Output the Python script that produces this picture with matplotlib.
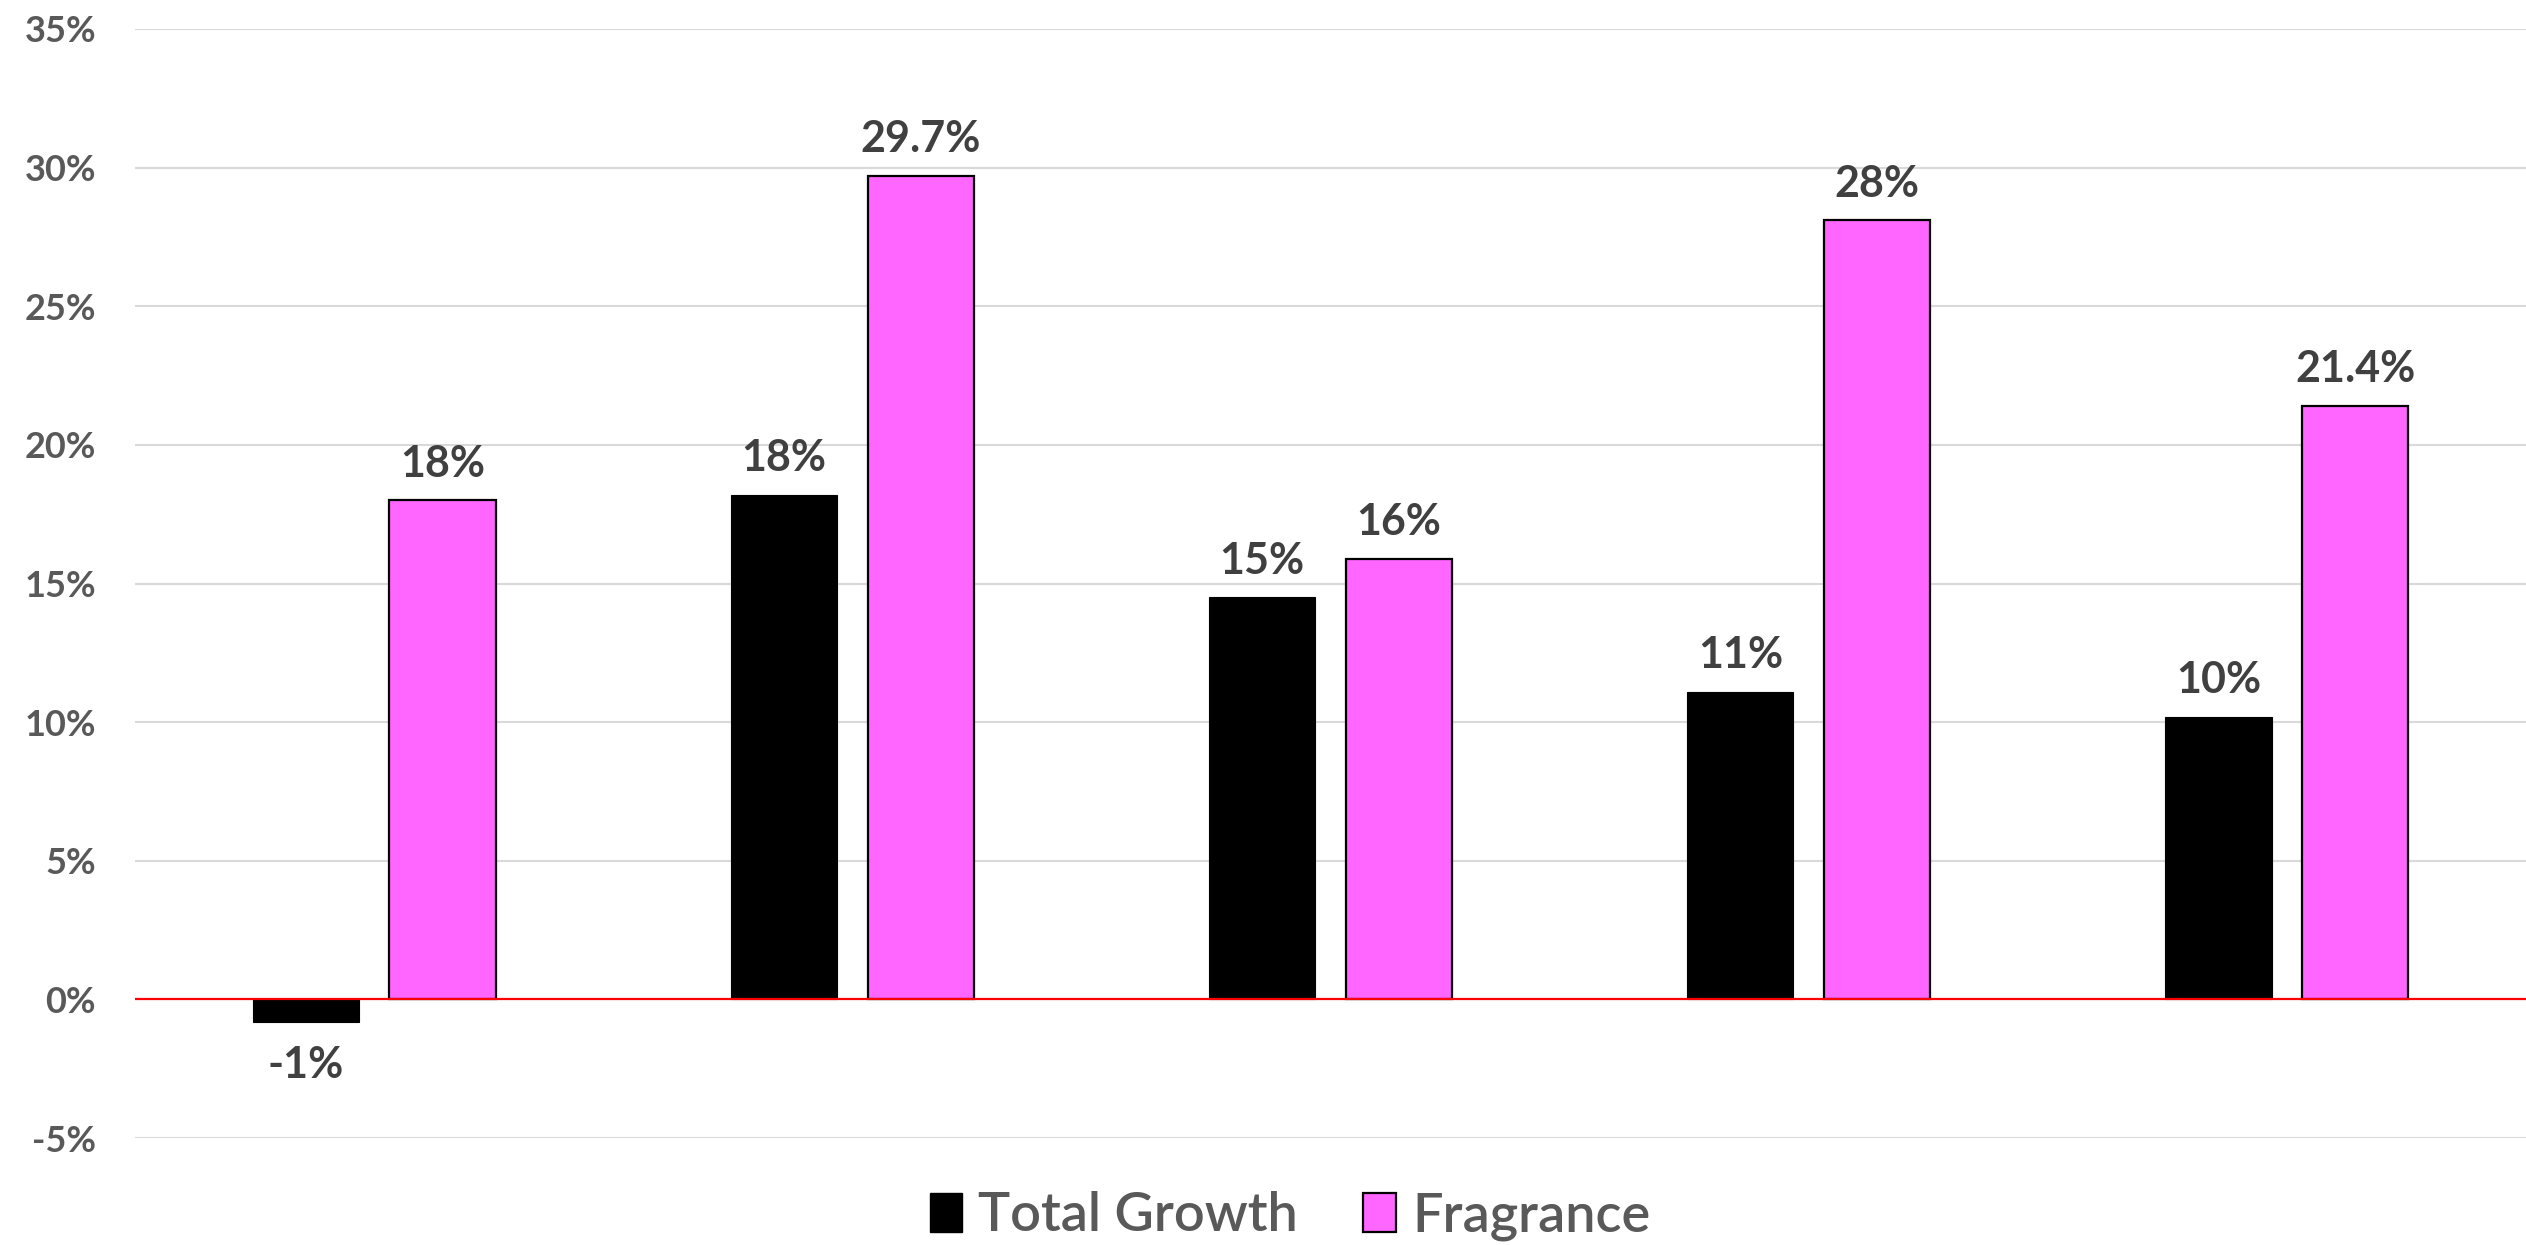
import matplotlib
matplotlib.use("Agg")
import matplotlib.pyplot as plt
import matplotlib.patches as mpatches
import numpy as np

# data
categories = ["G1", "G2", "G3", "G4", "G5"]
total_growth = [-0.8, 18.2, 14.5, 11.1, 10.2]
fragrance = [18.0, 29.7, 15.9, 28.1, 21.4]
total_labels = ["-1%", "18%", "15%", "11%", "10%"]
fragrance_labels = ["18%", "29.7%", "16%", "28%", "21.4%"]
yticks = [-5, 0, 5, 10, 15, 20, 25, 30, 35]

PINK = "#FF66FF"
TICK_GREY = "#595959"
LABEL_GREY = "#404040"

fig = plt.figure(figsize=(25.26, 12.45), dpi=100)
ax = fig.add_axes([135 / 2526, 1 - 1138 / 1245, 1 - 135 / 2526, (1138 - 29) / 1245])

x = np.arange(len(categories))
w = 0.222
off = 0.143
b1 = ax.bar(x - off, total_growth, w, color="black", edgecolor="black", lw=0.8, zorder=3)
b2 = ax.bar(x + off, fragrance, w, color=PINK, edgecolor="black", lw=1.6, zorder=3)

def label_bars(bars, labels):
    for rect, txt in zip(bars, labels):
        h = rect.get_height()
        cx = rect.get_x() + rect.get_width() / 2
        if h >= 0:
            ax.annotate(txt, (cx, h), xytext=(0, 17), textcoords="offset points",
                        ha="center", va="baseline", fontsize=31, fontweight="bold",
                        color=LABEL_GREY, family="Lato")
        else:
            ax.annotate(txt, (cx, h), xytext=(0, -17), textcoords="offset points",
                        ha="center", va="top", fontsize=31, fontweight="bold",
                        color=LABEL_GREY, family="Lato")

label_bars(b1, total_labels)
label_bars(b2, fragrance_labels)

ax.axhline(0, color="red", lw=1.6, zorder=4)
ax.set_xlim(-0.5, len(categories) - 0.5)
ax.set_ylim(-5, 35)
ax.set_yticks(yticks)
ax.set_yticklabels(["{}%".format(v) for v in yticks], fontsize=26, fontweight="bold",
                   color=TICK_GREY, family="Lato")
ax.set_xticks([])
ax.tick_params(axis="y", length=0, pad=28)
ax.grid(axis="y", color="#d9d9d9", lw=1.5, zorder=0)
for s in ax.spines.values():
    s.set_visible(False)

handles = [mpatches.Patch(facecolor="black", edgecolor="black", label="Total Growth"),
           mpatches.Patch(facecolor=PINK, edgecolor="black", lw=1.6, label="Fragrance")]
fig.legend(handles=handles, loc="center", bbox_to_anchor=(1290 / 2526, 1 - 1216 / 1245),
           ncol=2, frameon=False, handlelength=0.6, handleheight=0.75, handletextpad=0.3,
           columnspacing=1.2, prop={"family": "Lato", "weight": "semibold", "size": 39},
           labelcolor=TICK_GREY)

plt.savefig("out.png", dpi=100)
plt.close()
